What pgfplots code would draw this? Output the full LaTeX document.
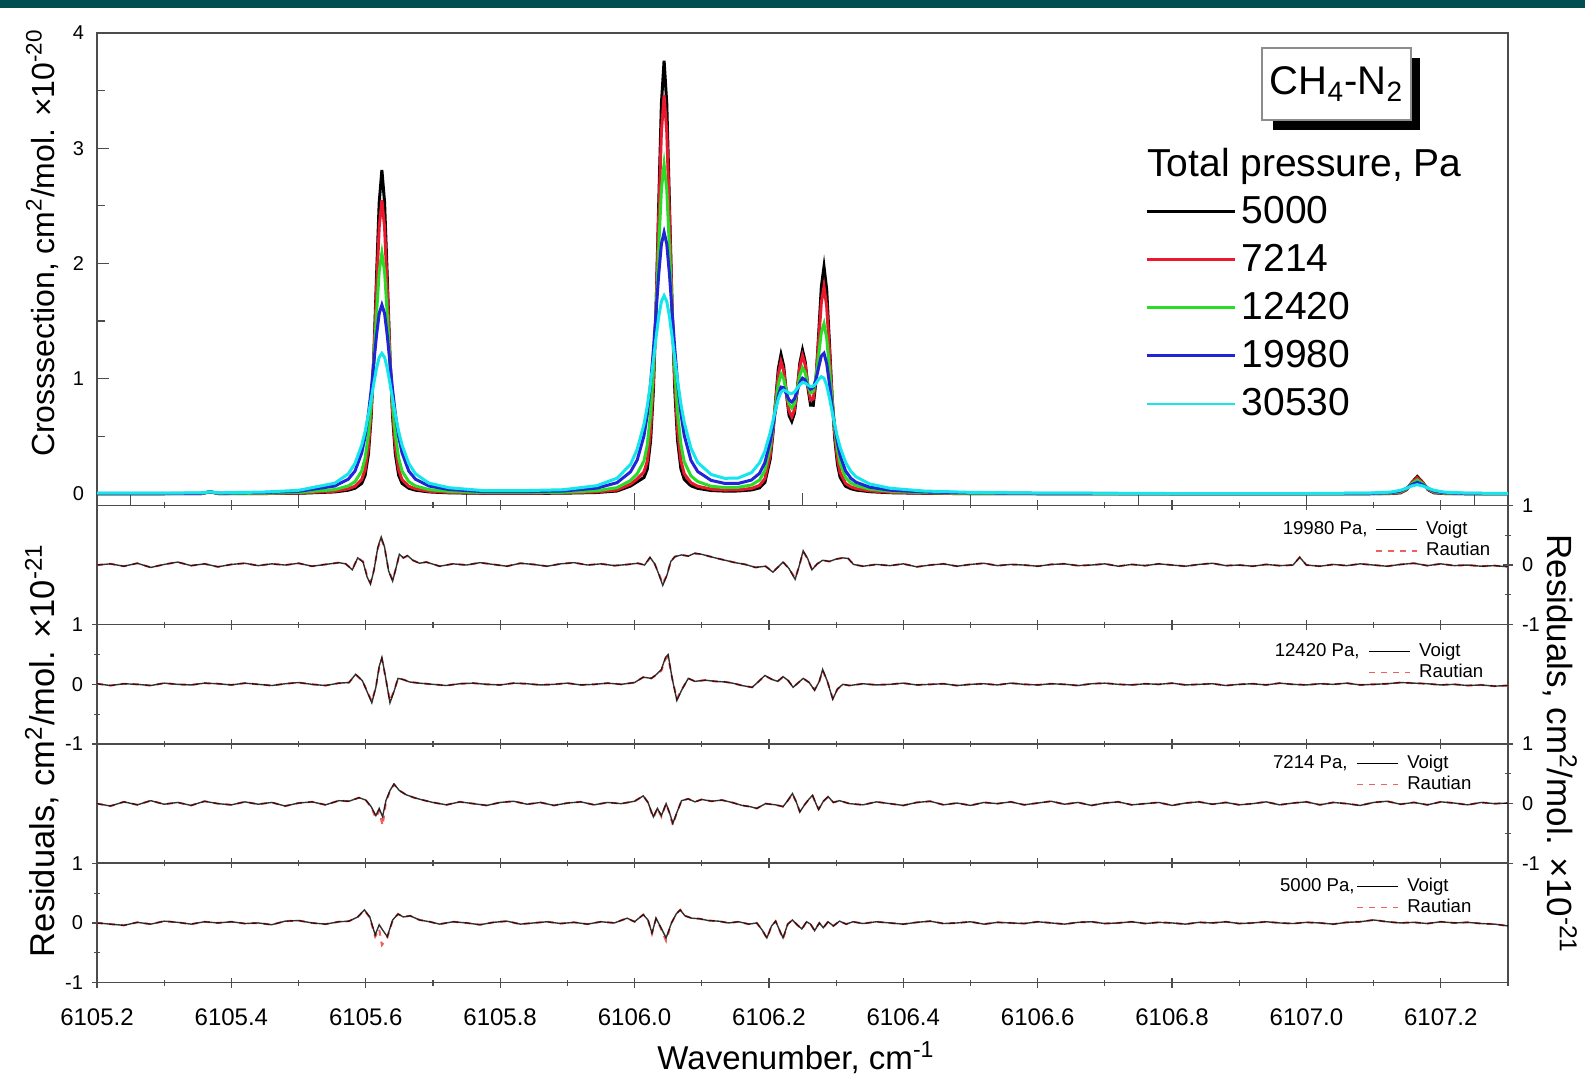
\documentclass[border=0pt]{standalone}
\usepackage{fontspec}
\setmainfont{Liberation Sans}
\usepackage{pgfplots}
\pgfplotsset{compat=1.18}
\usepackage{pgfplotstable}

\definecolor{teal0}{RGB}{0,77,82}
\definecolor{sred}{RGB}{235,25,45}
\definecolor{sgreen}{RGB}{40,220,40}
\definecolor{sblue}{RGB}{35,35,215}
\definecolor{scyan}{RGB}{20,230,235}
\definecolor{rautian}{RGB}{238,95,95}

% x = wavenumber - 6105 (cm^-1); cross sections in 1e-20 cm^2/mol
\pgfplotstableread{
x B R G Bl C
0.200 0.001 0.002 0.003 0.004 0.006
0.300 0.001 0.002 0.003 0.005 0.007
0.355 0.002 0.002 0.004 0.005 0.008
0.368 0.018 0.018 0.018 0.017 0.017
0.381 0.002 0.003 0.004 0.006 0.009
0.450 0.003 0.004 0.006 0.012 0.016
0.500 0.005 0.007 0.012 0.022 0.031
0.554 0.017 0.023 0.037 0.068 0.093
0.574 0.032 0.044 0.069 0.127 0.174
0.584 0.049 0.066 0.106 0.198 0.264
0.594 0.091 0.124 0.198 0.356 0.423
0.599 0.160 0.209 0.309 0.497 0.540
0.604 0.347 0.408 0.516 0.697 0.686
0.608 0.666 0.714 0.782 0.900 0.820
0.612 1.191 1.182 1.141 1.137 0.960
0.616 1.880 1.770 1.557 1.376 1.089
0.620 2.529 2.313 1.931 1.566 1.185
0.624 2.810 2.550 2.090 1.640 1.220
0.628 2.529 2.313 1.931 1.566 1.185
0.632 1.880 1.770 1.557 1.376 1.089
0.636 1.191 1.182 1.141 1.137 0.960
0.640 0.666 0.714 0.782 0.900 0.820
0.644 0.347 0.408 0.516 0.697 0.686
0.649 0.160 0.209 0.309 0.497 0.540
0.654 0.091 0.124 0.198 0.356 0.423
0.664 0.049 0.066 0.106 0.198 0.264
0.674 0.032 0.044 0.069 0.127 0.174
0.694 0.017 0.023 0.037 0.068 0.093
0.724 0.009 0.013 0.021 0.038 0.053
0.774 0.005 0.007 0.012 0.020 0.029
0.834 0.004 0.006 0.010 0.019 0.028
0.894 0.006 0.009 0.014 0.025 0.036
0.944 0.012 0.017 0.027 0.050 0.071
0.974 0.025 0.034 0.054 0.097 0.136
0.994 0.068 0.084 0.115 0.191 0.255
1.004 0.105 0.130 0.175 0.294 0.387
1.014 0.142 0.189 0.285 0.503 0.602
1.019 0.215 0.283 0.423 0.688 0.762
1.024 0.465 0.554 0.706 0.965 0.967
1.028 0.891 0.969 1.070 1.246 1.156
1.032 1.594 1.604 1.562 1.573 1.354
1.036 2.515 2.401 2.131 1.905 1.536
1.040 3.384 3.138 2.643 2.168 1.670
1.044 3.760 3.460 2.860 2.270 1.720
1.048 3.384 3.138 2.643 2.168 1.670
1.052 2.515 2.401 2.131 1.906 1.538
1.056 1.595 1.606 1.565 1.577 1.360
1.060 0.893 0.972 1.075 1.254 1.170
1.064 0.468 0.558 0.712 0.975 0.982
1.069 0.219 0.288 0.431 0.700 0.781
1.074 0.126 0.174 0.279 0.507 0.619
1.084 0.070 0.097 0.156 0.290 0.396
1.094 0.048 0.066 0.107 0.194 0.273
1.114 0.029 0.041 0.066 0.117 0.168
1.134 0.024 0.033 0.055 0.091 0.135
1.154 0.025 0.035 0.057 0.090 0.137
1.174 0.034 0.047 0.077 0.120 0.184
1.186 0.052 0.073 0.120 0.178 0.269
1.194 0.099 0.132 0.203 0.271 0.370
1.202 0.303 0.341 0.409 0.456 0.533
1.206 0.523 0.544 0.576 0.586 0.633
1.210 0.811 0.798 0.771 0.728 0.736
1.214 1.085 1.037 0.950 0.856 0.825
1.218 1.209 1.149 1.040 0.927 0.883
1.222 1.109 1.069 1.000 0.921 0.901
1.226 0.873 0.879 0.885 0.868 0.891
1.230 0.680 0.720 0.780 0.815 0.875
1.234 0.630 0.670 0.745 0.797 0.870
1.238 0.700 0.730 0.786 0.825 0.884
1.242 0.889 0.899 0.899 0.890 0.915
1.246 1.134 1.103 1.028 0.964 0.947
1.250 1.248 1.201 1.094 1.004 0.966
1.254 1.148 1.120 1.050 0.988 0.962
1.258 0.925 0.943 0.949 0.941 0.944
1.262 0.770 0.816 0.877 0.909 0.931
1.266 0.769 0.823 0.891 0.923 0.934
1.270 0.976 1.000 1.009 0.991 0.958
1.274 1.380 1.326 1.205 1.097 0.993
1.278 1.794 1.657 1.402 1.196 1.017
1.282 1.972 1.799 1.477 1.220 1.004
1.286 1.771 1.626 1.353 1.132 0.942
1.290 1.320 1.247 1.093 0.960 0.838
1.294 0.843 0.841 0.810 0.765 0.717
1.298 0.479 0.517 0.565 0.588 0.598
1.302 0.257 0.305 0.384 0.443 0.493
1.306 0.144 0.185 0.264 0.334 0.404
1.314 0.067 0.091 0.143 0.200 0.275
1.322 0.045 0.061 0.096 0.135 0.195
1.330 0.033 0.045 0.071 0.100 0.147
1.350 0.019 0.026 0.041 0.058 0.086
1.380 0.010 0.014 0.023 0.032 0.049
1.430 0.005 0.007 0.011 0.017 0.025
1.500 0.002 0.003 0.005 0.009 0.013
1.600 0.001 0.002 0.003 0.005 0.007
1.800 0.000 0.001 0.001 0.002 0.003
2.000 0.001 0.001 0.002 0.002 0.003
2.095 0.001 0.002 0.003 0.004 0.007
2.125 0.003 0.004 0.007 0.010 0.015
2.140 0.009 0.012 0.018 0.024 0.031
2.149 0.036 0.039 0.045 0.048 0.049
2.157 0.100 0.097 0.089 0.080 0.069
2.165 0.150 0.140 0.120 0.100 0.080
2.173 0.100 0.097 0.089 0.080 0.069
2.181 0.036 0.039 0.045 0.048 0.049
2.190 0.009 0.012 0.018 0.024 0.031
2.205 0.003 0.004 0.007 0.010 0.015
2.235 0.001 0.002 0.003 0.004 0.007
2.300 0.000 0.001 0.001 0.002 0.003
}\spectra

% residuals, 19980 Pa (v = Voigt, r = Rautian), 1e-21 cm^2/mol
\pgfplotstableread{
x v r
0.20 0.00 0.00
0.22 0.02 0.02
0.24 -0.02 -0.02
0.26 0.03 0.03
0.28 -0.04 -0.04
0.30 0.01 0.01
0.32 0.05 0.05
0.34 -0.01 -0.01
0.36 0.02 0.02
0.38 -0.03 -0.03
0.40 0.01 0.01
0.42 0.03 0.03
0.44 -0.01 -0.01
0.46 0.02 0.02
0.48 0.00 0.00
0.50 0.03 0.03
0.52 -0.02 -0.02
0.54 0.01 0.01
0.56 0.04 0.04
0.570 0.02 0.02
0.580 -0.08 -0.07
0.588 0.12 0.12
0.596 0.05 0.06
0.602 -0.20 -0.18
0.607 -0.32 -0.29
0.612 -0.10 -0.09
0.618 0.30 0.28
0.623 0.47 0.44
0.628 0.30 0.29
0.634 -0.10 -0.09
0.640 -0.27 -0.25
0.645 -0.05 -0.05
0.650 0.18 0.17
0.656 0.12 0.12
0.662 0.16 0.15
0.670 0.08 0.08
0.680 0.03 0.03
0.690 0.05 0.05
0.71 -0.02 -0.02
0.73 0.02 0.02
0.75 0.00 0.00
0.77 0.04 0.04
0.79 0.01 0.01
0.81 -0.02 -0.02
0.83 0.03 0.03
0.85 0.01 0.01
0.87 -0.02 -0.02
0.89 0.02 0.02
0.91 0.04 0.04
0.93 0.00 0.00
0.95 0.02 0.02
0.97 -0.01 -0.01
0.99 0.01 0.01
1.005 0.03 0.03
1.015 0.00 0.00
1.023 0.13 0.12
1.030 0.02 0.02
1.036 -0.15 -0.14
1.042 -0.34 -0.31
1.048 -0.18 -0.17
1.054 0.06 0.06
1.060 0.14 0.14
1.070 0.17 0.17
1.080 0.15 0.15
1.090 0.20 0.19
1.100 0.18 0.18
1.110 0.15 0.15
1.120 0.12 0.12
1.135 0.08 0.08
1.150 0.04 0.04
1.165 0.01 0.01
1.180 -0.04 -0.04
1.195 -0.02 -0.02
1.206 -0.12 -0.11
1.214 -0.03 -0.03
1.221 0.05 0.05
1.230 -0.06 -0.06
1.239 -0.24 -0.22
1.245 -0.02 -0.02
1.251 0.24 0.22
1.258 0.10 0.10
1.264 -0.08 -0.08
1.272 0.02 0.02
1.280 0.08 0.08
1.290 0.06 0.06
1.300 0.10 0.10
1.310 0.12 0.12
1.318 0.11 0.11
1.326 0.01 0.01
1.34 -0.02 -0.02
1.36 0.01 0.01
1.38 -0.01 -0.01
1.40 0.02 0.02
1.42 -0.03 -0.03
1.44 0.00 0.00
1.46 0.02 0.02
1.48 -0.02 -0.02
1.50 0.01 0.01
1.52 0.03 0.03
1.54 -0.01 -0.01
1.56 0.01 0.01
1.58 0.00 0.00
1.60 -0.02 -0.02
1.62 0.01 0.01
1.64 0.02 0.02
1.66 -0.01 -0.01
1.68 0.00 0.00
1.70 0.02 0.02
1.72 -0.02 -0.02
1.74 0.01 0.01
1.76 -0.01 -0.01
1.78 0.02 0.02
1.80 0.00 0.00
1.82 -0.02 -0.02
1.84 0.01 0.01
1.86 0.03 0.03
1.88 -0.01 -0.01
1.90 0.00 0.00
1.92 -0.02 -0.02
1.94 0.01 0.01
1.96 -0.01 -0.01
1.98 0.00 0.00
1.99 0.13 0.13
2.00 0.00 0.00
2.02 -0.02 -0.02
2.04 0.01 0.01
2.06 -0.01 -0.01
2.08 0.02 0.02
2.10 0.00 0.00
2.12 -0.02 -0.02
2.14 0.01 0.01
2.16 0.03 0.03
2.18 -0.01 -0.01
2.20 0.02 0.02
2.22 -0.01 -0.01
2.24 0.00 0.00
2.26 -0.02 -0.02
2.28 -0.01 -0.01
2.30 -0.03 -0.03
}\resA

% residuals, 12420 Pa
\pgfplotstableread{
x v r
0.20 0.01 0.01
0.22 -0.02 -0.02
0.24 0.01 0.01
0.26 0.00 0.00
0.28 -0.02 -0.02
0.30 0.02 0.02
0.32 0.00 0.00
0.34 -0.01 -0.01
0.36 0.02 0.02
0.38 0.01 0.01
0.40 -0.01 -0.01
0.42 0.02 0.02
0.44 0.00 0.00
0.46 -0.02 -0.02
0.48 0.01 0.01
0.50 0.03 0.03
0.52 0.00 0.00
0.54 -0.02 -0.02
0.56 0.02 0.02
0.575 0.03 0.03
0.585 0.17 0.16
0.595 0.06 0.06
0.603 -0.15 -0.14
0.609 -0.31 -0.28
0.615 -0.05 -0.05
0.620 0.30 0.28
0.624 0.45 0.42
0.629 0.15 0.14
0.636 -0.31 -0.28
0.642 -0.12 -0.11
0.648 0.10 0.10
0.656 0.08 0.08
0.665 0.04 0.04
0.680 0.02 0.02
0.70 0.00 0.00
0.72 -0.02 -0.02
0.74 0.01 0.01
0.76 0.02 0.02
0.78 0.00 0.00
0.80 -0.01 -0.01
0.82 0.02 0.02
0.84 0.01 0.01
0.86 -0.01 -0.01
0.88 0.00 0.00
0.90 0.02 0.02
0.92 -0.01 -0.01
0.94 0.00 0.00
0.96 0.02 0.02
0.98 0.00 0.00
1.000 0.03 0.03
1.013 0.12 0.12
1.025 0.10 0.10
1.033 0.17 0.16
1.040 0.25 0.23
1.046 0.45 0.42
1.050 0.50 0.46
1.056 0.10 0.10
1.063 -0.27 -0.24
1.070 -0.10 -0.09
1.080 0.10 0.10
1.090 0.05 0.05
1.105 0.07 0.07
1.120 0.05 0.05
1.135 0.04 0.04
1.146 0.02 0.02
1.160 -0.02 -0.02
1.175 -0.05 -0.05
1.185 0.05 0.05
1.194 0.15 0.14
1.205 0.08 0.08
1.213 0.05 0.05
1.221 0.13 0.12
1.229 0.06 0.06
1.236 -0.05 -0.05
1.243 0.02 0.02
1.251 0.10 0.10
1.260 0.03 0.03
1.268 -0.10 -0.09
1.275 0.05 0.05
1.280 0.25 0.23
1.287 0.05 0.05
1.295 -0.25 -0.23
1.302 -0.08 -0.08
1.310 0.00 0.00
1.320 -0.02 -0.02
1.34 0.01 0.01
1.36 -0.01 -0.01
1.38 0.00 0.00
1.40 0.02 0.02
1.42 -0.01 -0.01
1.44 0.00 0.00
1.46 0.01 0.01
1.48 -0.02 -0.02
1.50 0.00 0.00
1.52 0.01 0.01
1.54 -0.01 -0.01
1.56 0.02 0.02
1.58 0.00 0.00
1.60 -0.01 -0.01
1.62 0.01 0.01
1.64 0.00 0.00
1.66 -0.02 -0.02
1.68 0.01 0.01
1.70 0.02 0.02
1.72 0.00 0.00
1.74 -0.01 -0.01
1.76 0.01 0.01
1.78 0.00 0.00
1.80 0.02 0.02
1.82 -0.01 -0.01
1.84 0.00 0.00
1.86 0.01 0.01
1.88 -0.02 -0.02
1.90 0.00 0.00
1.92 0.01 0.01
1.94 -0.01 -0.01
1.96 0.02 0.02
1.98 0.00 0.00
2.00 -0.01 -0.01
2.02 0.01 0.01
2.04 0.00 0.00
2.06 0.02 0.02
2.08 -0.01 -0.01
2.10 0.00 0.00
2.12 0.01 0.01
2.14 0.03 0.03
2.16 0.02 0.02
2.18 0.01 0.01
2.20 -0.01 -0.01
2.22 0.00 0.00
2.24 -0.02 -0.02
2.26 -0.01 -0.01
2.28 -0.03 -0.03
2.30 -0.02 -0.02
}\resB

% residuals, 7214 Pa
\pgfplotstableread{
x v r
0.20 0.00 0.00
0.22 -0.04 -0.04
0.24 0.03 0.03
0.26 -0.02 -0.02
0.28 0.05 0.05
0.30 -0.01 -0.01
0.32 0.02 0.02
0.34 -0.03 -0.03
0.36 0.04 0.04
0.38 0.00 0.00
0.40 -0.02 -0.02
0.42 0.03 0.03
0.44 -0.01 -0.01
0.46 0.02 0.02
0.48 -0.04 -0.04
0.50 0.01 0.01
0.52 0.03 0.03
0.54 -0.02 -0.02
0.56 0.05 0.05
0.575 0.04 0.04
0.590 0.10 0.10
0.600 0.06 0.06
0.608 -0.05 -0.06
0.615 -0.20 -0.24
0.620 -0.08 -0.12
0.625 -0.22 -0.37
0.630 0.05 0.02
0.636 0.22 0.21
0.642 0.33 0.32
0.650 0.22 0.22
0.660 0.15 0.15
0.672 0.10 0.10
0.685 0.06 0.06
0.700 0.02 0.02
0.72 -0.02 -0.02
0.74 0.03 0.03
0.76 0.00 0.00
0.78 -0.03 -0.03
0.80 0.02 0.02
0.82 0.04 0.04
0.84 -0.01 -0.01
0.86 0.02 0.02
0.88 -0.03 -0.03
0.90 0.01 0.01
0.92 0.03 0.03
0.94 -0.02 -0.02
0.96 0.02 0.02
0.98 0.00 0.00
1.000 0.04 0.04
1.013 0.13 0.13
1.020 0.02 0.02
1.028 -0.22 -0.24
1.034 -0.08 -0.08
1.040 -0.20 -0.22
1.047 0.00 0.00
1.052 -0.15 -0.16
1.057 -0.33 -0.36
1.063 -0.15 -0.15
1.070 0.05 0.05
1.080 0.08 0.08
1.090 0.03 0.03
1.100 0.07 0.07
1.115 0.04 0.04
1.130 0.06 0.06
1.145 0.02 0.02
1.160 -0.03 -0.03
1.172 -0.05 -0.05
1.182 -0.08 -0.08
1.195 0.00 0.00
1.210 -0.02 -0.02
1.221 -0.05 -0.05
1.228 0.05 0.05
1.235 0.17 0.16
1.241 0.02 0.02
1.246 -0.14 -0.13
1.253 -0.02 -0.02
1.260 0.08 0.08
1.265 0.14 0.13
1.270 0.00 0.00
1.274 -0.10 -0.09
1.281 0.04 0.04
1.288 0.12 0.11
1.296 0.02 0.02
1.305 0.05 0.05
1.320 0.00 0.00
1.34 -0.02 -0.02
1.36 0.03 0.03
1.38 0.00 0.00
1.40 -0.03 -0.03
1.42 0.02 0.02
1.44 0.04 0.04
1.46 -0.02 -0.02
1.48 0.01 0.01
1.50 -0.03 -0.03
1.52 0.02 0.02
1.54 0.00 0.00
1.56 0.03 0.03
1.58 -0.02 -0.02
1.60 0.01 0.01
1.62 0.04 0.04
1.64 -0.01 -0.01
1.66 0.02 0.02
1.68 -0.03 -0.03
1.70 0.01 0.01
1.72 0.03 0.03
1.74 -0.02 -0.02
1.76 0.00 0.00
1.78 0.02 0.02
1.80 -0.03 -0.03
1.82 0.01 0.01
1.84 0.03 0.03
1.86 -0.01 -0.01
1.88 0.02 0.02
1.90 -0.02 -0.02
1.92 0.00 0.00
1.94 0.03 0.03
1.96 -0.02 -0.02
1.98 0.01 0.01
2.00 0.03 0.03
2.02 -0.02 -0.02
2.04 0.02 0.02
2.06 0.00 0.00
2.08 -0.03 -0.03
2.10 0.02 0.02
2.12 0.04 0.04
2.14 -0.01 -0.01
2.16 0.02 0.02
2.18 -0.02 -0.02
2.20 0.03 0.03
2.22 0.01 0.01
2.24 -0.02 -0.02
2.26 0.02 0.02
2.28 0.00 0.00
2.30 0.01 0.01
}\resC

% residuals, 5000 Pa
\pgfplotstableread{
x v r
0.20 0.00 0.00
0.22 -0.02 -0.02
0.24 -0.04 -0.04
0.26 0.01 0.01
0.28 -0.02 -0.02
0.30 0.03 0.03
0.32 0.01 0.01
0.34 -0.02 -0.02
0.36 0.02 0.02
0.38 0.00 0.00
0.40 0.02 0.02
0.42 -0.01 -0.01
0.44 0.00 0.00
0.46 -0.03 -0.03
0.48 0.03 0.03
0.50 0.04 0.04
0.52 0.00 0.00
0.54 -0.02 -0.02
0.56 0.02 0.02
0.575 0.03 0.03
0.588 0.10 0.10
0.598 0.22 0.21
0.606 0.10 0.09
0.614 -0.20 -0.23
0.620 -0.03 -0.10
0.624 -0.10 -0.37
0.632 -0.23 -0.25
0.640 0.05 0.04
0.648 0.15 0.15
0.656 0.10 0.10
0.666 0.12 0.12
0.680 0.05 0.05
0.695 0.02 0.02
0.71 -0.02 -0.02
0.73 0.02 0.02
0.75 0.00 0.00
0.77 -0.03 -0.03
0.79 0.01 0.01
0.81 0.03 0.03
0.83 -0.02 -0.02
0.85 0.00 0.00
0.87 0.02 0.02
0.89 -0.01 -0.01
0.91 0.01 0.01
0.93 -0.02 -0.02
0.95 0.02 0.02
0.97 0.00 0.00
0.989 0.08 0.08
1.000 0.02 0.02
1.013 0.14 0.14
1.020 0.05 0.05
1.026 -0.17 -0.18
1.032 0.08 0.07
1.038 -0.05 -0.06
1.047 -0.25 -0.30
1.055 0.00 0.00
1.062 0.15 0.15
1.068 0.22 0.22
1.075 0.12 0.12
1.085 0.08 0.08
1.097 0.07 0.07
1.110 0.04 0.04
1.125 0.03 0.03
1.140 0.00 0.00
1.155 0.02 0.02
1.170 -0.02 -0.02
1.182 0.00 0.00
1.190 -0.12 -0.12
1.197 -0.25 -0.26
1.204 -0.05 -0.05
1.210 0.03 0.03
1.215 -0.10 -0.10
1.221 -0.25 -0.27
1.228 -0.02 -0.02
1.235 0.05 0.05
1.242 -0.03 -0.03
1.249 -0.10 -0.11
1.256 0.02 0.02
1.262 -0.02 -0.02
1.268 -0.13 -0.13
1.275 0.00 0.00
1.281 -0.08 -0.08
1.288 0.02 0.02
1.296 -0.05 -0.05
1.305 0.03 0.03
1.315 -0.02 -0.02
1.325 0.02 0.02
1.34 -0.01 -0.01
1.36 0.02 0.02
1.38 0.00 0.00
1.40 -0.02 -0.02
1.42 0.01 0.01
1.44 0.03 0.03
1.46 -0.01 -0.01
1.48 0.00 0.00
1.50 0.02 0.02
1.52 -0.02 -0.02
1.54 0.01 0.01
1.56 0.00 0.00
1.58 -0.01 -0.01
1.60 0.02 0.02
1.62 0.00 0.00
1.64 -0.02 -0.02
1.66 0.01 0.01
1.68 0.02 0.02
1.70 -0.01 -0.01
1.72 0.00 0.00
1.74 0.02 0.02
1.76 -0.01 -0.01
1.78 0.01 0.01
1.80 0.00 0.00
1.82 -0.02 -0.02
1.84 0.01 0.01
1.86 0.00 0.00
1.88 0.02 0.02
1.90 -0.01 -0.01
1.92 0.00 0.00
1.94 0.02 0.02
1.96 0.00 0.00
1.98 -0.01 -0.01
2.00 0.01 0.01
2.02 0.00 0.00
2.04 -0.02 -0.02
2.06 0.01 0.01
2.08 0.02 0.02
2.10 0.05 0.05
2.12 0.02 0.02
2.14 0.00 0.00
2.16 0.01 0.01
2.18 -0.01 -0.01
2.20 0.02 0.02
2.22 0.00 0.00
2.24 0.01 0.01
2.26 -0.01 -0.01
2.28 -0.02 -0.02
2.30 -0.05 -0.05
}\resD

\pgfplotsset{
  base/.style={scale only axis, width=705.5pt, xmin=0.2, xmax=2.3,
    axis line style={black!70, line width=0.8pt},
    every tick/.style={black!70, line width=0.6pt},
    /pgf/number format/assume math mode=true,
    yticklabel style={font=\fontsize{10}{12}\selectfont},
    xticklabel style={font=\fontsize{12}{14}\selectfont}},
  res/.style={base, height=59.65pt, ymin=-1, ymax=1,
    ytick={-1,0,1}, minor ytick={-0.5,0.5},
    xtick={0.2,0.4,0.6,0.8,1.0,1.2,1.4,1.6,1.8,2.0,2.2},
    minor xtick={0.3,0.5,0.7,0.9,1.1,1.3,1.5,1.7,1.9,2.1,2.3},
    xticklabels={}, tick align=center,
    major tick length=5pt, minor tick length=3pt,
    legend cell align=left,
    legend style={draw=none, fill=none, inner sep=0pt,
      font=\fontsize{9.3}{11}\selectfont, row sep=0.25pt, column sep=3pt,
      nodes={inner sep=1pt}},
    legend image code/.code={\draw[##1] (0pt,0pt) -- (20.5pt,0pt);}},
  resL/.style={res, ytick pos=left, yticklabel pos=left, yticklabel style={xshift=-1pt}},
  resR/.style={res, ytick pos=right, yticklabel pos=right, yticklabel style={xshift=1pt}},
  rplot/.style={rautian, dashed, line width=1pt, forget plot},
  vplot/.style={black, line width=0.7pt, opacity=0.8, forget plot},
}

\begin{document}
\begin{tikzpicture}
\useasboundingbox (0,0) rectangle (792.5pt,540.5pt);
\fill[teal0] (0,536.5pt) rectangle (792.5pt,540.5pt);

% ---------- top panel ----------
\begin{axis}[base, at={(48.5pt,287.8pt)}, anchor=south west, height=236.2pt,
  ymin=-0.1, ymax=4,
  xtick={0.25,0.5,0.75,1.0,1.25,1.5,1.75,2.0,2.25}, xticklabels={}, xtick pos=bottom,
  ytick={0,1,2,3,4}, minor ytick={0.5,1.5,2.5,3.5}, ytick pos=left,
  tick align=inside, major tick length=6pt, minor tick length=4pt,
  yticklabel style={xshift=-3pt},
  legend cell align=left,
  legend style={at={(0.7427,0.659)}, anchor=north west, draw=none, fill=none,
    inner sep=0pt, font=\fontsize{19.5}{23.4}\selectfont, row sep=6.9pt, column sep=2pt,
    nodes={inner sep=1pt}},
  legend image code/.code={\draw[#1, line width=1.2pt] (0pt,0pt) -- (44pt,0pt);},
]
\addplot[black, line width=1.5pt] table[x=x,y=B]{\spectra};
\addlegendentry{5000}
\addplot[sred, line width=1.5pt] table[x=x,y=R]{\spectra};
\addlegendentry{7214}
\addplot[sgreen, line width=1.5pt] table[x=x,y=G]{\spectra};
\addlegendentry{12420}
\addplot[sblue, line width=1.5pt] table[x=x,y=Bl]{\spectra};
\addlegendentry{19980}
\addplot[scyan, line width=1.5pt] table[x=x,y=C]{\spectra};
\addlegendentry{30530}
\end{axis}

% ---------- residual panels ----------
\begin{axis}[resR, at={(48.5pt,228.15pt)}, anchor=south west,
  legend style={at={(0.9057,0.886)}, anchor=north west}]
\addplot[rplot] table[x=x,y=r]{\resA};
\addplot[vplot] table[x=x,y=v]{\resA};
\addlegendimage{black, line width=0.6pt}\addlegendentry{Voigt}
\addlegendimage{rautian, dashed, line width=0.9pt}\addlegendentry{Rautian}
\end{axis}

\begin{axis}[resL, at={(48.5pt,168.5pt)}, anchor=south west,
  legend style={at={(0.9008,0.864)}, anchor=north west}]
\addplot[rplot] table[x=x,y=r]{\resB};
\addplot[vplot] table[x=x,y=v]{\resB};
\addlegendimage{black, line width=0.6pt}\addlegendentry{Voigt}
\addlegendimage{rautian, dashed, line width=0.9pt}\addlegendentry{Rautian}
\end{axis}

\begin{axis}[resR, at={(48.5pt,108.85pt)}, anchor=south west,
  legend style={at={(0.8923,0.925)}, anchor=north west}]
\addplot[rplot] table[x=x,y=r]{\resC};
\addplot[vplot] table[x=x,y=v]{\resC};
\addlegendimage{black, line width=0.6pt}\addlegendentry{Voigt}
\addlegendimage{rautian, dashed, line width=0.9pt}\addlegendentry{Rautian}
\end{axis}

\begin{axis}[resL, at={(48.5pt,49.2pt)}, anchor=south west,
  xticklabels={6105.2,6105.4,6105.6,6105.8,6106.0,6106.2,6106.4,6106.6,6106.8,6107.0,6107.2},
  xticklabel style={yshift=-7pt},
  legend style={at={(0.8923,0.894)}, anchor=north west}]
\addplot[rplot] table[x=x,y=r]{\resD};
\addplot[vplot] table[x=x,y=v]{\resD};
\addlegendimage{black, line width=0.6pt}\addlegendentry{Voigt}
\addlegendimage{rautian, dashed, line width=0.9pt}\addlegendentry{Rautian}
\end{axis}

% ---------- texts ----------
\fill[black] (636.5pt,475.5pt) rectangle (710pt,511.5pt);
\draw[black!45, fill=white, line width=0.6pt] (631pt,480.5pt) rectangle (705.5pt,516.5pt);
\node[font=\fontsize{20}{24}\selectfont] at (668.25pt,498.5pt) {CH\textsubscript{4}-N\textsubscript{2}};
\node[anchor=base west, inner sep=0pt, font=\fontsize{19.5}{23.4}\selectfont] at (573.5pt,452pt) {Total pressure, Pa};

\node[anchor=base east, inner sep=0pt, font=\fontsize{9.3}{11}\selectfont] at (684pt,273.2pt) {19980 Pa,};
\node[anchor=base east, inner sep=0pt, font=\fontsize{9.3}{11}\selectfont] at (680pt,212.2pt) {12420 Pa,};
\node[anchor=base east, inner sep=0pt, font=\fontsize{9.3}{11}\selectfont] at (674pt,156.2pt) {7214 Pa,};
\node[anchor=base east, inner sep=0pt, font=\fontsize{9.3}{11}\selectfont] at (677.5pt,94.7pt) {5000 Pa,};

\node[rotate=90, inner sep=0pt, font=\fontsize{16}{19}\selectfont] at (21pt,419pt)
  {Crosssection, cm\textsuperscript{2}/mol. ×10\textsuperscript{-20}};
\node[rotate=90, inner sep=0pt, font=\fontsize{17.25}{20}\selectfont] at (21pt,165.25pt)
  {Residuals, cm\textsuperscript{2}/mol. ×10\textsuperscript{-21}};
\node[rotate=-90, inner sep=0pt, font=\fontsize{17.5}{20}\selectfont] at (780pt,168.5pt)
  {Residuals, cm\textsuperscript{2}/mol. ×10\textsuperscript{-21}};
\node[anchor=base, inner sep=0pt, font=\fontsize{16.5}{20}\selectfont] at (398pt,5.5pt)
  {Wavenumber, cm\textsuperscript{-1}};
\end{tikzpicture}
\end{document}
